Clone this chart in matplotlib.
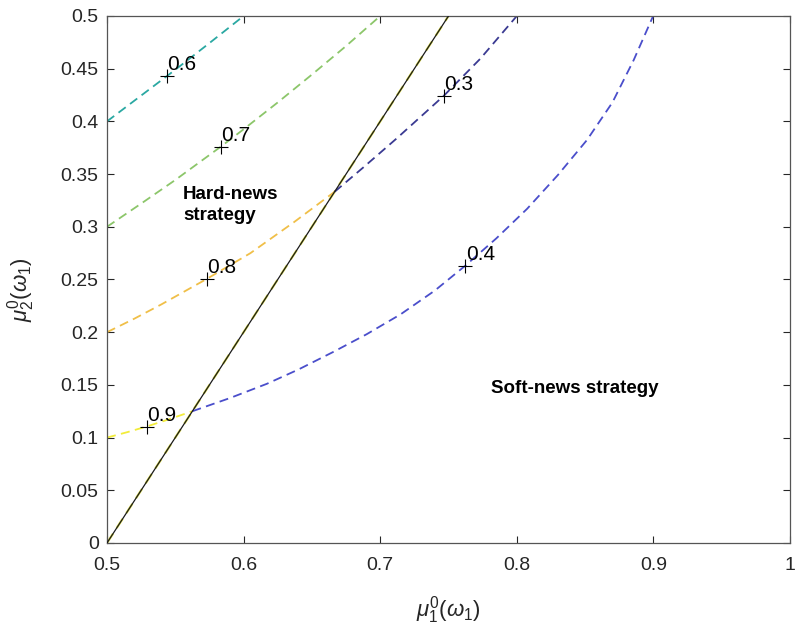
import matplotlib
matplotlib.use("Agg")
import matplotlib.pyplot as plt

plt.rcParams['font.family'] = ['Liberation Sans', 'DejaVu Sans']
plt.rcParams['mathtext.fontset'] = 'custom'
plt.rcParams['mathtext.rm'] = 'Liberation Sans'
plt.rcParams['mathtext.it'] = 'Liberation Sans:italic'

# ---- data ----
levels = ['0.6', '0.7', '0.8', '0.9', '0.3', '0.4']
curve_x = {
    '0.6': [0.5, 0.525, 0.55, 0.575, 0.6],
    '0.7': [0.5, 0.525, 0.55, 0.5833, 0.6, 0.625, 0.65, 0.675, 0.7],
    '0.8': [0.5, 0.52, 0.54, 0.573, 0.605, 0.637, 0.6667],
    '0.9': [0.5, 0.515, 0.529, 0.545, 0.5625],
    '0.3': [0.6667, 0.6878, 0.7122, 0.7464, 0.7733, 0.8],
    '0.4': [0.5625, 0.59, 0.617, 0.64, 0.666, 0.69, 0.715, 0.74, 0.7623,
            0.785, 0.8075, 0.83, 0.8514, 0.87, 0.8856, 0.8998],
}
curve_y = {
    '0.6': [0.4, 0.4245, 0.449, 0.4743, 0.5],
    '0.7': [0.3, 0.322, 0.3444, 0.376, 0.3925, 0.418, 0.4444, 0.4715, 0.5],
    '0.8': [0.2, 0.2128, 0.2265, 0.2505, 0.275, 0.3045, 0.3333],
    '0.9': [0.1, 0.1052, 0.1105, 0.1172, 0.125],
    '0.3': [0.3333, 0.3565, 0.384, 0.4241, 0.4595, 0.5],
    '0.4': [0.125, 0.1375, 0.151, 0.1645, 0.1815, 0.198, 0.217, 0.2395, 0.2631,
            0.289, 0.317, 0.349, 0.3824, 0.418, 0.4583, 0.5],
}
label_x = [0.5437, 0.5833, 0.573, 0.529, 0.7464, 0.7623]
label_y = [0.443, 0.376, 0.2505, 0.1104, 0.4241, 0.2631]
boundary_x = [0.5, 0.75]
boundary_y = [0.0, 0.5]
xticks = [0.5, 0.6, 0.7, 0.8, 0.9, 1.0]
xticklabels = ['0.5', '0.6', '0.7', '0.8', '0.9', '1']
yticks = [0, 0.05, 0.1, 0.15, 0.2, 0.25, 0.3, 0.35, 0.4, 0.45, 0.5]
yticklabels = ['0', '0.05', '0.1', '0.15', '0.2', '0.25', '0.3', '0.35', '0.4', '0.45', '0.5']

colors = {
    '0.6': '#2aa8a2',
    '0.7': '#8cc66a',
    '0.8': '#f0bf48',
    '0.9': '#f2ec3a',
    '0.3': '#3a3a92',
    '0.4': '#4a4ecb',
}

fig = plt.figure(figsize=(7.96, 6.27), dpi=100)
ax = fig.add_axes([0.1344, 0.134, 0.8581, 0.8405])

# boundary line (with yellow contour pile-up beneath)
ax.plot(boundary_x, boundary_y, color='#d8d840', lw=1.6, ls=(0, (5, 3)), zorder=2)
ax.plot(boundary_x, boundary_y, color='#1a1a1a', lw=0.9, zorder=3)

for lev in levels:
    ax.plot(curve_x[lev], curve_y[lev], color=colors[lev], lw=1.3,
            ls=(0, (5, 3)), zorder=2)

for lev, lx, ly in zip(levels, label_x, label_y):
    ax.plot([lx], [ly], marker='+', color='black', ms=10, mew=0.8, zorder=4)
    ax.annotate(lev, (lx, ly), xytext=(0.5, 1.5), textcoords='offset points',
                ha='left', va='bottom', fontsize=15, color='black', zorder=5)

ax.text(0.5557, 0.339, 'Hard-news\nstrategy', fontsize=13.5, fontweight='bold',
        ha='left', va='top', linespacing=1.3)
ax.text(0.781, 0.147, 'Soft-news strategy', fontsize=13.5, fontweight='bold',
        ha='left', va='center')

ax.set_xlim(0.5, 1.0)
ax.set_ylim(0, 0.5)
ax.set_xticks(xticks)
ax.set_xticklabels(xticklabels)
ax.set_yticks(yticks)
ax.set_yticklabels(yticklabels)
ax.tick_params(direction='in', length=5, width=0.8, colors='#262626',
               labelsize=14, top=True, right=True)
ax.tick_params(axis='x', pad=10)
ax.tick_params(axis='y', pad=6)
for s in ax.spines.values():
    s.set_color('#555555')
    s.set_linewidth(0.9)

ax.set_xlabel(r'$\mu_1^0(\omega_1)$', fontsize=16, color='#262626')
ax.set_ylabel(r'$\mu_2^0(\omega_1)$', fontsize=16, color='#262626')
ax.xaxis.set_label_coords(0.5, -0.097)
ax.yaxis.set_label_coords(-0.103, 0.48)

fig.savefig('out.png', dpi=100)
